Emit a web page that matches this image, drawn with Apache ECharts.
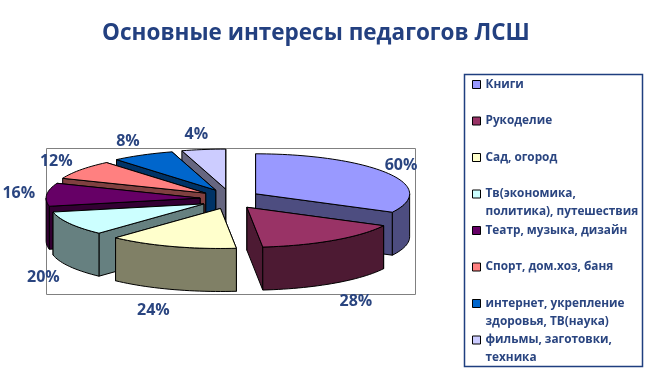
<!DOCTYPE html>
<html>
<head>
<meta charset="utf-8">
<style>
html, body { margin: 0; padding: 0; background: #fff; }
#chart { width: 663px; height: 392px; }
</style>
<script src="https://cdn.jsdelivr.net/npm/echarts@6/dist/echarts.min.js"></script>
</head>
<body>
<div id="chart"></div>
<script>
const titleText = "Основные интересы педагогов ЛСШ";
const categories = [
	"Книги",
	"Рукоделие",
	"Сад, огород",
	"Тв(экономика,\nполитика), путешествия",
	"Театр, музыка, дизайн",
	"Спорт, дом.хоз, баня",
	"интернет, укрепление\nздоровья, ТВ(наука)",
	"фильмы, заготовки,\nтехника",
];
const values = [60, 28, 24, 20, 16, 12, 8, 4];
const topColors = ["#9999FF", "#993366", "#FFFFCC", "#CCFFFF", "#660066", "#FF8080", "#0066CC", "#CCCCFF"];
const sideColors = ["#4D4D80", "#4D1A33", "#808066", "#668080", "#330033", "#804040", "#003366", "#666680"];

// the 3-D view of the old chart squeezes angles, true angle -> drawn angle
const viewWarp = [[0, 0], [120, 112], [180, 170], [235, 223.5], [275, 257], [310, 292], [335, 320], [352, 344], [360, 360]];

const textColor = "#2A4580";
const cx = 230, cy = 199; // pie centre before explosion
const rx = 154, ry = 40; // ellipse of the top face
const ex = 30, ey = 10; // explosion
const depth = 43;
const labelRx = 183, labelBackRy = 55, labelFrontRy = 62;
const labelNudgeX = [-11, 6, -9, -1, 1, -1, -1, -3]; // the old chart placed them by hand

let chart = echarts.init(document.getElementById("chart"));

function warp(a) {
	for (let i = 1; i < viewWarp.length; i++) {
		if (a <= viewWarp[i][0]) {
			return echarts.number.linearMap(a, [viewWarp[i - 1][0], viewWarp[i][0]], [viewWarp[i - 1][1], viewWarp[i][1]]);
		}
	}
	return a;
}

function rad(a) {
	return (a * Math.PI) / 180;
}

function arcPoints(apex, from, to, dy) {
	let pts = [];
	let n = Math.max(1, Math.ceil((to - from) / 2));
	for (let i = 0; i <= n; i++) {
		let a = rad(from + ((to - from) * i) / n);
		pts.push([apex[0] + rx * Math.sin(a), apex[1] - ry * Math.cos(a) + dy]);
	}
	return pts;
}

function face(points, fill) {
	return {
		type: "polygon",
		shape: { points: points },
		style: { fill: fill, stroke: "#000", lineWidth: 1 },
		silent: true,
	};
}

function radialFace(apex, a, fill) {
	let p = arcPoints(apex, a, a, 0)[0];
	return face([apex, p, [p[0], p[1] + depth], [apex[0], apex[1] + depth]], fill);
}

function makeRenderItem(i) {
	return function (params, api) {
		let start = warp(api.value(0));
		let end = warp(api.value(1));
		let mid = (start + end) / 2;
		let apex = [cx + ex * Math.sin(rad(mid)), cy - ey * Math.cos(rad(mid))];
		let children = [];

		// back edge first, then the front one
		let edges = Math.cos(rad(start)) > Math.cos(rad(end)) ? [start, end] : [end, start];
		edges.forEach((a) => children.push(radialFace(apex, a, sideColors[i])));

		// outer wall, only the part turned to the viewer
		let from = Math.max(start, 90);
		let to = Math.min(end, 270);
		if (from < to) {
			let upper = arcPoints(apex, from, to, 0);
			let lower = arcPoints(apex, from, to, depth).reverse();
			children.push(face(upper.concat(lower), sideColors[i]));
		}

		children.push(face([apex].concat(arcPoints(apex, start, end, 0)), topColors[i]));

		let front = Math.cos(rad(mid)) < -0.4;
		let lx = apex[0] + labelRx * Math.sin(rad(mid)) + labelNudgeX[i];
		let ly = apex[1] - (front ? labelFrontRy : labelBackRy) * Math.cos(rad(mid));
		if (front) ly += depth;
		children.push({
			type: "text",
			silent: true,
			style: {
				x: lx,
				y: ly,
				text: api.value(2) + "%",
				align: "center",
				verticalAlign: "middle",
				fill: textColor,
				font: 'bold 16px "Open Sans", sans-serif',
			},
		});
		return { type: "group", children: children };
	};
}

let total = values.reduce((s, v) => s + v, 0);
let acc = 0;
let slices = values.map((v, i) => {
	let start = (acc / total) * 360;
	acc += v;
	let end = (acc / total) * 360;
	return { i: i, start: start, end: end, mid: warp((start + end) / 2) };
});

// painter's order, the slices at the back go first
let series = slices
	.slice()
	.sort((a, b) => Math.cos(rad(b.mid)) - Math.cos(rad(a.mid)))
	.map((s) => ({
		type: "custom",
		name: categories[s.i],
		coordinateSystem: "none",
		renderItem: makeRenderItem(s.i),
		data: [[s.start, s.end, values[s.i]]],
		itemStyle: { color: topColors[s.i] },
		animation: false,
	}));

const legendLine = 18;
let legends = categories.map((name, i) => {
	let lines = name.indexOf("\n") >= 0 ? 3 : 1;
	return {
		left: 472,
		top: 84.5 + i * 36.5 - (lines * legendLine) / 2,
		padding: 0,
		itemWidth: 8,
		itemHeight: 8,
		icon: "rect",
		selectedMode: false,
		data: [{ name: name, itemStyle: { color: topColors[i], borderColor: "#000", borderWidth: 1 } }],
		formatter: (n) => (n.indexOf("\n") >= 0 ? "\n" + n : n),
		textStyle: {
			color: textColor,
			fontFamily: "Open Sans",
			fontWeight: "bold",
			fontSize: 11.8,
			lineHeight: legendLine,
		},
	};
});

let option = {
	backgroundColor: "#fff",
	animation: false,
	title: {
		text: titleText,
		left: 311,
		top: 17,
		textAlign: "center",
		textStyle: { color: "#234080", fontFamily: "Open Sans", fontWeight: "bold", fontSize: 22.5 },
	},
	legend: legends,
	graphic: [
		{
			type: "rect",
			z: -1,
			shape: { x: 46.5, y: 148.5, width: 369, height: 146 },
			style: { fill: "none", stroke: "#808080", lineWidth: 1 },
		},
		{
			type: "rect",
			z: -1,
			shape: { x: 464.5, y: 74.5, width: 178, height: 292 },
			style: { fill: "none", stroke: "#1F3F7F", lineWidth: 1.5 },
		},
	],
	series: series,
};

chart.setOption(option);
</script>
</body>
</html>
